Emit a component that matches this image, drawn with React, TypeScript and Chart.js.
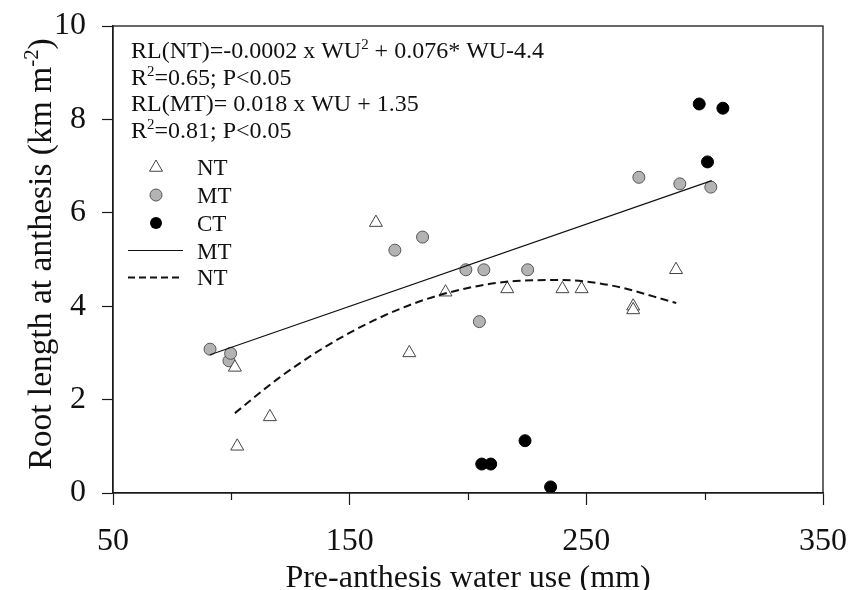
import React, { useEffect, useRef } from 'react';
import { Chart, registerables } from 'chart.js';

Chart.register(...registerables);

const FONT = "'Liberation Serif', 'Times New Roman', Times, serif";

// Axis ticks
const xMin = 50;
const xMax = 350;
const xStep = 50;
const xLabeledTicks = [50, 150, 250, 350];
const yMin = 0;
const yMax = 10;
const yStep = 2;

// NT (open triangles)
const ntX = [101.5, 102.5, 116.3, 161.1, 175.2, 190.5, 216.6, 239.9, 248.0, 269.8, 269.8, 287.9];
const ntY = [2.69, 1.0, 1.63, 5.79, 3.0, 4.3, 4.37, 4.37, 4.37, 4.0, 3.92, 4.78];

// MT (grey circles)
const mtX = [91.0, 99.0, 99.7, 169.1, 180.8, 199.1, 204.8, 206.7, 225.2, 272.2, 289.5, 302.6];
const mtY = [3.08, 2.83, 2.99, 5.2, 5.48, 4.78, 3.67, 4.78, 4.78, 6.76, 6.62, 6.55];

// CT (black circles)
const ctX = [205.8, 209.6, 224.1, 234.9, 297.7, 301.2, 307.7];
const ctY = [0.62, 0.62, 1.12, 0.13, 8.33, 7.09, 8.24];

// Fitted MT line
const mtFitX = [91, 303];
const mtFitY = [2.96, 6.69];

// Fitted NT curve
const ntFitX = [101.5, 120, 140, 160, 180, 200, 220, 240, 260, 288];
const ntFitY = [1.71, 2.46, 3.14, 3.69, 4.11, 4.39, 4.54, 4.56, 4.45, 4.07];

const xTitle = 'Pre-anthesis water use (mm)';
const yTitleParts = [
  { t: 'Root length at anthesis (km m' },
  { t: '-2', sup: true },
  { t: ')' },
];

const annotationLines = [
  [{ t: 'RL(NT)=-0.0002 x WU' }, { t: '2', sup: true }, { t: ' + 0.076* WU-4.4' }],
  [{ t: 'R' }, { t: '2', sup: true }, { t: '=0.65; P<0.05' }],
  [{ t: 'RL(MT)= 0.018 x WU + 1.35' }],
  [{ t: 'R' }, { t: '2', sup: true }, { t: '=0.81; P<0.05' }],
];

const legendNames = ['NT', 'MT', 'CT', 'MT', 'NT'];

const pts = (xs: number[], ys: number[]) => xs.map((x, i) => ({ x, y: ys[i] }));

type Part = { t: string; sup?: boolean };

function richWidth(ctx: CanvasRenderingContext2D, parts: Part[], size: number) {
  let w = 0;
  for (const p of parts) {
    ctx.font = `${p.sup ? size * 0.62 : size}px ${FONT}`;
    w += ctx.measureText(p.t).width;
  }
  return w;
}

function drawRich(ctx: CanvasRenderingContext2D, parts: Part[], x: number, y: number, size: number) {
  let cx = x;
  ctx.textAlign = 'left';
  ctx.textBaseline = 'alphabetic';
  for (const p of parts) {
    const s = p.sup ? size * 0.62 : size;
    ctx.font = `${s}px ${FONT}`;
    ctx.fillText(p.t, cx, p.sup ? y - size * 0.38 : y);
    cx += ctx.measureText(p.t).width;
  }
}

const overlayPlugin = {
  id: 'overlay',
  afterDraw(chart: any) {
    const { ctx, chartArea: ca, scales } = chart;
    const xs = scales.x;
    ctx.save();
    // frame
    ctx.strokeStyle = '#1a1a1a';
    ctx.lineWidth = 1.3;
    ctx.strokeRect(ca.left, ca.top, ca.right - ca.left, ca.bottom - ca.top);

    // minor x ticks
    ctx.beginPath();
    for (let v = xMin; v <= xMax; v += xStep) {
      if (xLabeledTicks.includes(v)) continue;
      const px = Math.round(xs.getPixelForValue(v)) + 0.5;
      ctx.moveTo(px, ca.bottom);
      ctx.lineTo(px, ca.bottom + 7);
    }
    ctx.lineWidth = 1.2;
    ctx.stroke();

    ctx.fillStyle = '#111';
    // annotation
    annotationLines.forEach((parts, i) => {
      drawRich(ctx, parts, 131, 58 + i * 26.7, 24);
    });

    // legend
    const symX = 156;
    const textX = 197;
    const rowsC = [166, 195, 223, 250.5, 277.5];
    const rowsB = [175, 203, 231, 258.5, 285];
    // triangle
    const r = 7.5;
    ctx.beginPath();
    for (let k = 0; k < 3; k++) {
      const a = (k * 2 * Math.PI) / 3;
      const px = symX + Math.sin(a) * r;
      const py = rowsC[0] + 1.5 - Math.cos(a) * r;
      if (k === 0) ctx.moveTo(px, py);
      else ctx.lineTo(px, py);
    }
    ctx.closePath();
    ctx.fillStyle = '#fff';
    ctx.fill();
    ctx.strokeStyle = '#444';
    ctx.lineWidth = 1;
    ctx.stroke();
    // grey circle
    ctx.beginPath();
    ctx.arc(symX, rowsC[1], 6, 0, Math.PI * 2);
    ctx.fillStyle = '#b3b3b3';
    ctx.fill();
    ctx.strokeStyle = '#555';
    ctx.stroke();
    // black circle
    ctx.beginPath();
    ctx.arc(symX, rowsC[2], 6, 0, Math.PI * 2);
    ctx.fillStyle = '#000';
    ctx.fill();
    // solid line
    ctx.beginPath();
    ctx.moveTo(128, rowsC[3]);
    ctx.lineTo(183, rowsC[3]);
    ctx.strokeStyle = '#111';
    ctx.lineWidth = 1.2;
    ctx.stroke();
    // dashed line
    ctx.beginPath();
    ctx.setLineDash([7, 4]);
    ctx.moveTo(128, rowsC[4]);
    ctx.lineTo(183, rowsC[4]);
    ctx.lineWidth = 2;
    ctx.stroke();
    ctx.setLineDash([]);

    ctx.fillStyle = '#111';
    ctx.font = `23px ${FONT}`;
    ctx.textAlign = 'left';
    ctx.textBaseline = 'alphabetic';
    legendNames.forEach((n, i) => ctx.fillText(n, textX, rowsB[i]));

    // x title
    ctx.font = `32px ${FONT}`;
    ctx.textAlign = 'center';
    ctx.fillText(xTitle, (ca.left + ca.right) / 2, 587);

    // y title
    const ySize = 33.5;
    const w = richWidth(ctx, yTitleParts, ySize);
    ctx.save();
    ctx.translate(51, 254);
    ctx.rotate(-Math.PI / 2);
    ctx.fillStyle = '#111';
    drawRich(ctx, yTitleParts, -w / 2, 0, ySize);
    ctx.restore();

    ctx.restore();
  },
};

export default function App() {
  const ref = useRef<HTMLCanvasElement>(null);
  useEffect(() => {
    const chart = new Chart(ref.current!, {
      type: 'scatter',
      data: {
        datasets: [
          {
            label: 'MT fit',
            data: pts(mtFitX, mtFitY),
            showLine: true,
            borderColor: '#111',
            borderWidth: 1.2,
            pointRadius: 0,
            fill: false,
          },
          {
            label: 'NT fit',
            data: pts(ntFitX, ntFitY),
            showLine: true,
            borderColor: '#111',
            borderWidth: 2,
            borderDash: [8, 4.5],
            pointRadius: 0,
            cubicInterpolationMode: 'monotone',
            fill: false,
          },
          {
            label: 'NT',
            data: pts(ntX, ntY),
            pointStyle: 'triangle',
            pointRadius: 7.5,
            backgroundColor: '#fff',
            borderColor: '#444',
            borderWidth: 1,
          },
          {
            label: 'MT',
            data: pts(mtX, mtY),
            pointStyle: 'circle',
            pointRadius: 6,
            backgroundColor: '#b3b3b3',
            borderColor: '#555',
            borderWidth: 1,
          },
          {
            label: 'CT',
            data: pts(ctX, ctY),
            pointStyle: 'circle',
            pointRadius: 6,
            backgroundColor: '#000',
            borderColor: '#000',
            borderWidth: 1,
          },
        ] as any,
      },
      options: {
        animation: false,
        responsive: false,
        devicePixelRatio: 1,
        events: [],
        layout: { padding: { top: 26, right: 27, left: 0, bottom: 0 } },
        plugins: {
          legend: { display: false },
          tooltip: { enabled: false },
        },
        scales: {
          x: {
            type: 'linear',
            min: xMin,
            max: xMax,
            afterFit: (s: any) => {
              s.height = 97;
              s.paddingLeft = 0;
              s.paddingRight = 0;
              s.paddingTop = 0;
              s.paddingBottom = 0;
            },
            ticks: {
              stepSize: xStep,
              autoSkip: false,
              maxRotation: 0,
              padding: 17,
              color: '#111',
              font: { family: FONT, size: 32 },
              callback: (v: any) => (xLabeledTicks.includes(Number(v)) ? String(v) : ''),
            },
            grid: {
              drawOnChartArea: false,
              drawTicks: true,
              tickLength: 12,
              tickWidth: 1.2,
              tickColor: (c: any) =>
                c.tick && xLabeledTicks.includes(c.tick.value) ? '#1a1a1a' : 'rgba(0,0,0,0)',
            },
            border: { display: true, color: '#1a1a1a', width: 1.3 },
            title: { display: false },
          },
          y: {
            type: 'linear',
            min: yMin,
            max: yMax,
            afterFit: (s: any) => {
              s.width = 113;
              s.paddingLeft = 0;
              s.paddingRight = 0;
              s.paddingTop = 0;
              s.paddingBottom = 0;
            },
            ticks: {
              stepSize: yStep,
              padding: 16,
              color: '#111',
              font: { family: FONT, size: 32 },
            },
            grid: {
              drawOnChartArea: false,
              drawTicks: true,
              tickLength: 11,
              tickWidth: 1.2,
              tickColor: '#1a1a1a',
            },
            border: { display: true, color: '#1a1a1a', width: 1.3 },
            title: { display: false },
          },
        },
      } as any,
      plugins: [overlayPlugin],
    });
    return () => chart.destroy();
  }, []);
  return (
    <div style={{ position: 'absolute', left: 0, top: 0, width: 850, height: 590, background: '#fff' }}>
      <canvas ref={ref} width={850} height={590} style={{ display: 'block' }} />
    </div>
  );
}
